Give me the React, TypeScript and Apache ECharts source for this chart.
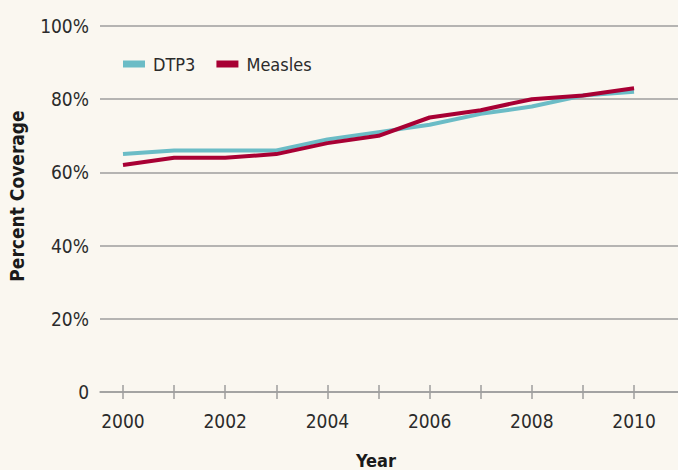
import React, { useEffect, useRef } from "react";
import * as echarts from "echarts";

const years = [2000, 2001, 2002, 2003, 2004, 2005, 2006, 2007, 2008, 2009, 2010];
const dtp3 = [65, 66, 66, 66, 69, 71, 73, 76, 78, 81, 82];
const measles = [62, 64, 64, 65, 68, 70, 75, 77, 80, 81, 83];
const yearLabels = [2000, 2002, 2004, 2006, 2008, 2010];
const seriesNames = ["DTP3", "Measles"];

const FONT = "'DejaVu Sans Condensed', 'Liberation Sans Narrow', sans-serif";
const BG = "#faf7f0";
const GRID = "#9e9e9e";
const TEXT = "#2b2b2b";

export default function App() {
  const ref = useRef<HTMLDivElement>(null);
  useEffect(() => {
    if (!ref.current) return;
    const chart = echarts.init(ref.current, null, { renderer: "svg" });
    const xMin = 1999.55;
    const xMax = 2010.86;
    chart.setOption({
      animation: false,
      backgroundColor: BG,
      textStyle: { fontFamily: FONT },
      grid: { left: 100, right: 0, top: 26, bottom: 78, containLabel: false },
      legend: {
        left: 118,
        top: 50,
        icon: "rect",
        itemWidth: 22,
        itemHeight: 7,
        itemGap: 21,
        textStyle: { fontFamily: FONT, fontSize: 18, color: TEXT, padding: [0, 0, 0, 3] },
        data: seriesNames,
      },
      xAxis: [
        {
          type: "value",
          min: xMin,
          max: xMax,
          axisLine: { show: true, lineStyle: { color: GRID, width: 1.5 } },
          axisTick: {
            show: true,
            length: 7,
            customValues: years,
            lineStyle: { color: GRID, width: 1.5 },
          },
          axisLabel: {
            customValues: yearLabels,
            fontFamily: FONT,
            fontSize: 19,
            color: TEXT,
            margin: 19,
            formatter: (v: number) => String(v),
          },
          splitLine: { show: false },
        },
        {
          type: "value",
          min: xMin,
          max: xMax,
          position: "bottom",
          axisLine: { show: false },
          axisTick: {
            show: true,
            inside: true,
            length: 7,
            customValues: years,
            lineStyle: { color: GRID, width: 1.5 },
          },
          axisLabel: { show: false },
          splitLine: { show: false },
        },
      ],
      yAxis: {
        type: "value",
        min: 0,
        max: 100,
        interval: 20,
        axisLine: { show: false },
        axisTick: { show: false },
        axisLabel: {
          fontFamily: FONT,
          fontSize: 19,
          color: TEXT,
          margin: 11,
          formatter: (v: number) => (v === 0 ? "0" : v + "%"),
        },
        splitLine: { show: true, lineStyle: { color: GRID, width: 1.5 } },
      },
      graphic: [
        {
          type: "text",
          x: 17,
          y: 196,
          rotation: Math.PI / 2,
          style: {
            text: "Percent Coverage",
            fontFamily: FONT,
            fontWeight: "bold",
            fontSize: 19,
            fill: "#1a1a1a",
            align: "center",
            verticalAlign: "middle",
          },
        },
        {
          type: "text",
          x: 376,
          y: 460,
          style: {
            text: "Year",
            fontFamily: FONT,
            fontWeight: "bold",
            fontSize: 18,
            fill: "#1a1a1a",
            align: "center",
            verticalAlign: "middle",
          },
        },
      ],
      series: [
        {
          name: seriesNames[0],
          type: "line",
          data: years.map((y, i) => [y, dtp3[i]]),
          showSymbol: false,
          symbol: "none",
          lineStyle: { color: "#6bbcc6", width: 4 },
          itemStyle: { color: "#6bbcc6" },
        },
        {
          name: seriesNames[1],
          type: "line",
          data: years.map((y, i) => [y, measles[i]]),
          showSymbol: false,
          symbol: "none",
          lineStyle: { color: "#a80034", width: 4 },
          itemStyle: { color: "#a80034" },
        },
      ],
    });
    return () => chart.dispose();
  }, []);
  return (
    <div
      ref={ref}
      style={{ position: "fixed", left: 0, top: 0, width: 678, height: 470, background: BG }}
    />
  );
}
